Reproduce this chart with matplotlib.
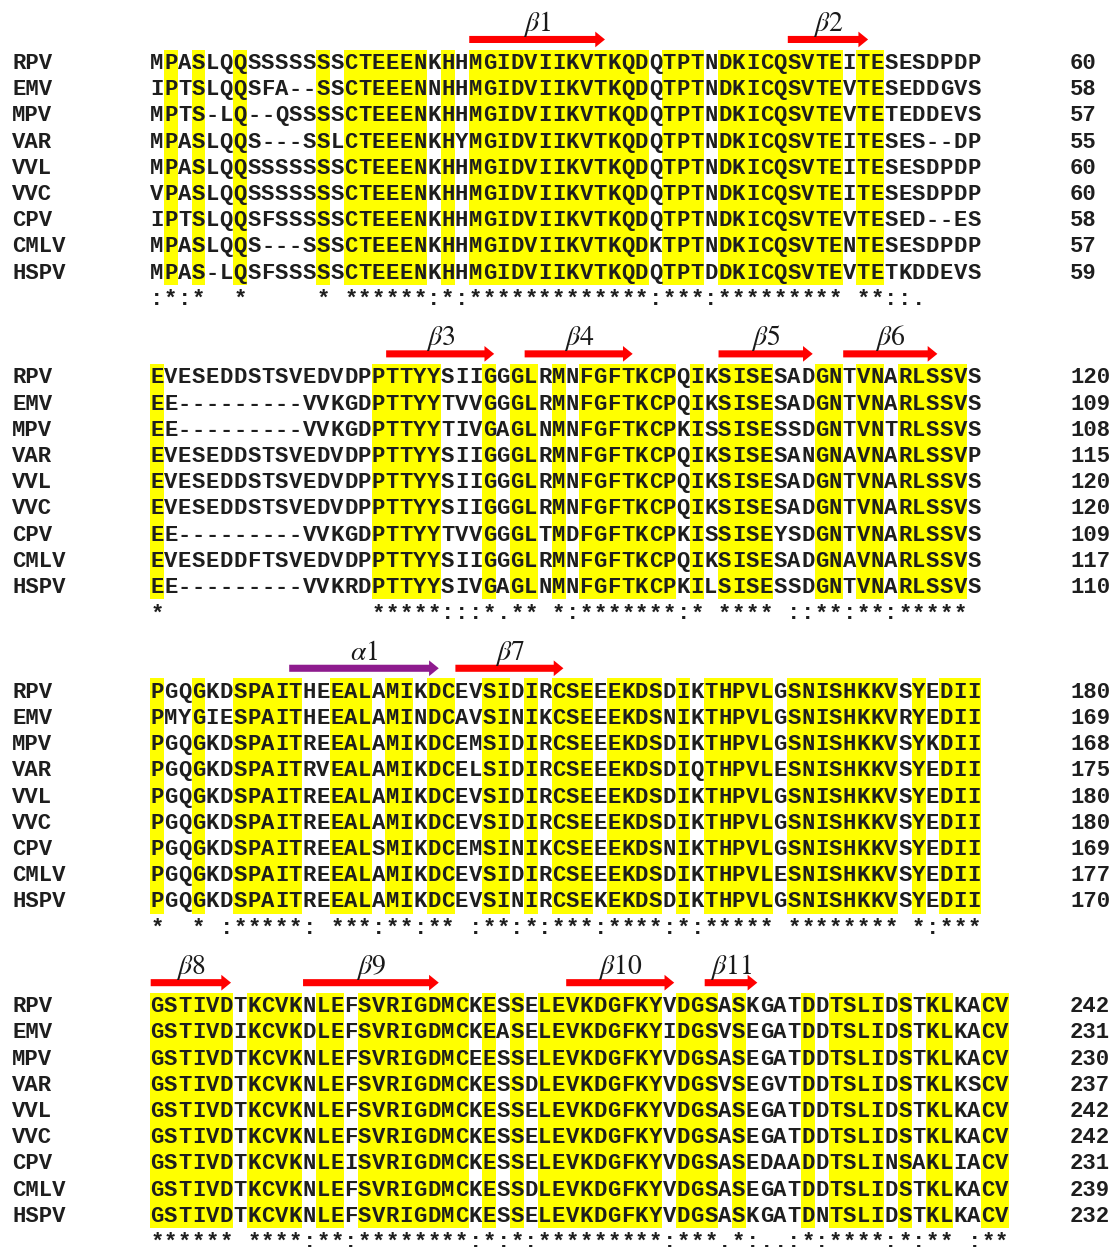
import matplotlib
matplotlib.use('Agg')
import matplotlib.pyplot as plt
from matplotlib.patches import Rectangle, FancyArrow

plt.rcParams['mathtext.fontset'] = 'stix'

names = ['RPV', 'EMV', 'MPV', 'VAR', 'VVL', 'VVC', 'CPV', 'CMLV', 'HSPV']

block1 = [
    'MPASLQQSSSSSSSCTEEENKHHMGIDVIIKVTKQDQTPTNDKICQSVTEITESESDPDP',
    'IPTSLQQSFA--SSCTEEENNHHMGIDVIIKVTKQDQTPTNDKICQSVTEVTESEDDGVS',
    'MPTS-LQ--QSSSSCTEEENKHHMGIDVIIKVTKQDQTPTNDKICQSVTEVTETEDDEVS',
    'MPASLQQS---SSLCTEEENKHYMGIDVIIKVTKQDQTPTNDKICQSVTEITESES--DP',
    'MPASLQQSSSSSSSCTEEENKHHMGIDVIIKVTKQDQTPTNDKICQSVTEITESESDPDP',
    'VPASLQQSSSSSSSCTEEENKHHMGIDVIIKVTKQDQTPTNDKICQSVTEITESESDPDP',
    'IPTSLQQSFSSSSSCTEEENKHHMGIDVIIKVTKQDQTPTNDKICQSVTEVTESED--ES',
    'MPASLQQS---SSSCTEEENKHHMGIDVIIKVTKQDKTPTNDKICQSVTENTESESDPDP',
    'MPAS-LQSFSSSSSCTEEENKHHMGIDVIIKVTKQDQTPTDDKICQSVTEVTETKDDEVS',
]
block2 = [
    'EVESEDDSTSVEDVDPPTTYYSIIGGGLRMNFGFTKCPQIKSISESADGNTVNARLSSVS',
    'EE---------VVKGDPTTYYTVVGGGLRMNFGFTKCPQIKSISESADGNTVNARLSSVS',
    'EE---------VVKGDPTTYYTIVGAGLNMNFGFTKCPKISSISESSDGNTVNTRLSSVS',
    'EVESEDDSTSVEDVDPPTTYYSIIGGGLRMNFGFTKCPQIKSISESANGNAVNARLSSVP',
    'EVESEDDSTSVEDVDPPTTYYSIIGGGLRMNFGFTKCPQIKSISESADGNTVNARLSSVS',
    'EVESEDDSTSVEDVDPPTTYYSIIGGGLRMNFGFTKCPQIKSISESADGNTVNARLSSVS',
    'EE---------VVKGDPTTYYTVVGGGLTMDFGFTKCPKISSISEYSDGNTVNARLSSVS',
    'EVESEDDFTSVEDVDPPTTYYSIIGGGLRMNFGFTKCPQIKSISESADGNAVNARLSSVS',
    'EE---------VVKRDPTTYYSIVGAGLNMNFGFTKCPKILSISESSDGNTVNARLSSVS',
]
block3 = [
    'PGQGKDSPAITHEEALAMIKDCEVSIDIRCSEEEKDSDIKTHPVLGSNISHKKVSYEDII',
    'PMYGIESPAITHEEALAMINDCAVSINIKCSEEEKDSNIKTHPVLGSNISHKKVRYEDII',
    'PGQGKDSPAITREEALAMIKDCEMSIDIRCSEEEKDSDIKTHPVLGSNISHKKVSYKDII',
    'PGQGKDSPAITRVEALAMIKDCELSIDIRCSEEEKDSDIQTHPVLESNISHKKVSYEDII',
    'PGQGKDSPAITREEALAMIKDCEVSIDIRCSEEEKDSDIKTHPVLGSNISHKKVSYEDII',
    'PGQGKDSPAITREEALAMIKDCEVSIDIRCSEEEKDSDIKTHPVLGSNISHKKVSYEDII',
    'PGQGKDSPAITREEALSMIKDCEMSINIKCSEEEKDSNIKTHPVLGSNISHKKVSYEDII',
    'PGQGKDSPAITREEALAMIKDCEVSIDIRCSEEEKDSDIKTHPVLESNISHKKVSYEDII',
    'PGQGKDSPAITREEALAMIKDCEVSINIRCSEKEKDSDIKTHPVLGSNISHKKVSYEDII',
]
block4 = [
    'GSTIVDTKCVKNLEFSVRIGDMCKESSELEVKDGFKYVDGSASKGATDDTSLIDSTKLKACV',
    'GSTIVDIKCVKDLEFSVRIGDMCKEASELEVKDGFKYIDGSVSEGATDDTSLIDSTKLKACV',
    'GSTIVDTKCVKNLEFSVRIGDMCEESSELEVKDGFKYVDGSASEGATDDTSLIDSTKLKACV',
    'GSTIVDTKCVKNLEFSVRIGDMCKESSDLEVKDGFKYVDGSVSEGVTDDTSLIDSTKLKSCV',
    'GSTIVDTKCVKNLEFSVRIGDMCKESSELEVKDGFKYVDGSASEGATDDTSLIDSTKLKACV',
    'GSTIVDTKCVKNLEFSVRIGDMCKESSELEVKDGFKYVDGSASEGATDDTSLIDSTKLKACV',
    'GSTIVDTKCVKNLEISVRIGDMCKESSELEVKDGFKYVDGSASEDAADDTSLINSAKLIACV',
    'GSTIVDTKCVKNLEFSVRIGDMCKESSDLEVKDGFKYVDGSASEGATDDTSLIDSTKLKACV',
    'GSTIVDTKCVKNLEFSVRIGDMCKESSELEVKDGFKYVDGSASKGATDNTSLIDSTKLKACV',
]

cons1 = ':*:*  *     * ******:*:*************:***:********* **::.    '
cons2 = '*               *****:::*.** *:*******:* **** ::**:**:***** '
cons3 = '*  * :*****: ***:**:** :**:*:***:****:*:***** ******** *:***'
cons4 = '****** ****:**:********:*:*:*********:***.*:..:*:****:*:** :**'

end1 = [60, 58, 57, 55, 60, 60, 58, 57, 59]
end2 = [120, 109, 108, 115, 120, 120, 109, 117, 110]
end3 = [180, 169, 168, 175, 180, 180, 169, 177, 170]
end4 = [242, 231, 230, 237, 242, 242, 231, 239, 232]

# secondary structure: block index, label, first column, last column, type
ss_block = [0, 0, 1, 1, 1, 1, 2, 2, 3, 3, 3, 3]
ss_label = [r'$\beta 1$', r'$\beta 2$', r'$\beta 3$', r'$\beta 4$', r'$\beta 5$', r'$\beta 6$',
            r'$\alpha 1$', r'$\beta 7$', r'$\beta 8$', r'$\beta 9$', r'$\beta 10$', r'$\beta 11$']
ss_first = [24, 47, 18, 28, 42, 51, 11, 23, 1, 12, 31, 41]
ss_last = [33, 52, 25, 35, 48, 57, 21, 30, 6, 21, 38, 44]
ss_type = ['E', 'E', 'E', 'E', 'E', 'E', 'H', 'E', 'E', 'E', 'E', 'E']

blocks = [block1, block2, block3, block4]
conss = [cons1, cons2, cons3, cons4]
ends = [end1, end2, end3, end4]
for blk, cons in zip(blocks, conss):
    assert all(len(s) == len(cons) for s in blk), (len(cons), [len(s) for s in blk])

# ---- layout (pixels) ----
W, H = 1117, 1247
col_w = 13.85
x0 = 150.0
row_h = 26.2
y0 = 62.0
rows_per_block = 12

fig = plt.figure(figsize=(W / 100, H / 100), dpi=100)
ax = fig.add_axes([0, 0, 1, 1])
ax.set_xlim(0.5 - x0 / col_w, 0.5 + (W - x0) / col_w)
ax.set_ylim((H - y0) / row_h, -y0 / row_h)
ax.axis('off')

seq_font = dict(family='Liberation Mono', weight='bold', size=16, color='#1e1e1e')
base_off = 0.27
ss_colors = {'E': '#ff0000', 'H': '#8e1b8e'}

for b, (blk, cons, endn) in enumerate(zip(blocks, conss, ends)):
    Y = b * rows_per_block
    # highlight fully conserved columns (runs merged)
    c = 0
    while c < len(cons):
        if cons[c] == '*':
            s = c
            while c < len(cons) and cons[c] == '*':
                c += 1
            ax.add_patch(Rectangle((s + 0.5, Y - 0.47), c - s, len(blk) - 1 + 0.97,
                                   facecolor='#ffff00', edgecolor='none', zorder=1))
        else:
            c += 1
    for r, (nm, seq, n) in enumerate(zip(names, blk, endn)):
        yy = Y + r + base_off
        ax.text(0.5 + (12 - x0) / col_w, yy, nm, ha='left', va='baseline', zorder=3, **seq_font)
        for i, ch in enumerate(seq):
            ax.text(i + 1, yy, ch, ha='center', va='baseline', zorder=3, **seq_font)
        ax.text(0.5 + (1070 - x0) / col_w, yy, str(n), ha='left', va='baseline', zorder=3, **seq_font)
    yy = Y + len(blk) + base_off
    for i, ch in enumerate(cons):
        if ch != ' ':
            ax.text(i + 1, yy, ch, ha='center', va='baseline', zorder=3, **seq_font)

for b, lab, f, l, t in zip(ss_block, ss_label, ss_first, ss_last, ss_type):
    Y = b * rows_per_block
    ya = Y - 0.86
    xs = f - 0.45
    xe = l + 0.35
    ax.add_patch(FancyArrow(xs, ya, xe - xs, 0, width=0.27, head_width=0.6,
                            head_length=0.7, length_includes_head=True,
                            facecolor=ss_colors[t], edgecolor='none', zorder=2))
    ax.text((xs + xe) / 2, Y - 1.18, lab, ha='center', va='baseline',
            fontsize=20, color='#1a1a1a', zorder=3)

fig.savefig('out.png', dpi=100)
